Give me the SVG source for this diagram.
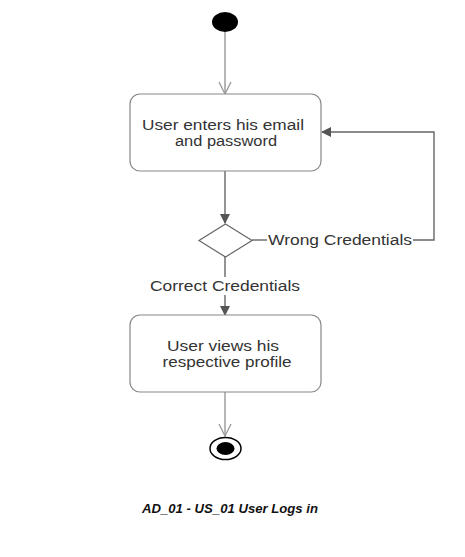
<svg xmlns="http://www.w3.org/2000/svg" width="465" height="557" viewBox="0 0 465 557">
<style>
.box{fill:#fff;stroke:#888;stroke-width:1.2}
.t{font-family:"Liberation Sans",Arial,sans-serif;font-size:14px;fill:#333;text-anchor:middle;dominant-baseline:central}
.ln{fill:none;stroke:#666;stroke-width:1.4}
.lt{fill:none;stroke:#999;stroke-width:1.4}
.cap{font-family:"Liberation Sans",Arial,sans-serif;font-size:12px;font-weight:bold;font-style:italic;fill:#111;text-anchor:middle;dominant-baseline:central}
</style>
<defs>
<marker id="fill" markerWidth="10" markerHeight="10" refX="9" refY="5" orient="auto" markerUnits="userSpaceOnUse">
<path d="M0,0 L10,5 L0,10 Z" fill="#555"/>
</marker>
<marker id="open" markerWidth="14" markerHeight="14" refX="13" refY="7" orient="auto" markerUnits="userSpaceOnUse">
<path d="M1,1 L13,7 L1,13" fill="none" stroke="#999" stroke-width="1.3"/>
</marker>
</defs>
<g id="connectors">
<line class="lt" x1="225" y1="32" x2="225" y2="94" marker-end="url(#open)"/>
<line class="ln" x1="225" y1="171" x2="225" y2="223" marker-end="url(#fill)"/>
<line class="ln" x1="252" y1="240" x2="267" y2="240"/>
<polyline class="ln" points="413,240 434,240 434,132 322,132" marker-end="url(#fill)"/>
<line class="ln" x1="225" y1="257" x2="225" y2="277"/>
<line class="ln" x1="225" y1="295" x2="225" y2="315" marker-end="url(#fill)"/>
<line class="lt" x1="225" y1="392" x2="225" y2="436" marker-end="url(#open)"/>
<text class="t" x="340" y="240" textLength="144" lengthAdjust="spacingAndGlyphs">Wrong Credentials</text>
<text class="t" x="225" y="286" textLength="150" lengthAdjust="spacingAndGlyphs">Correct Credentials</text>
</g>
<g id="start">
<ellipse cx="225" cy="22" rx="13" ry="10" fill="#000"/>
</g>
<g id="enter">
<rect class="box" x="130" y="94" width="191" height="77" rx="10"/>
<text class="t" x="223" y="125" textLength="162" lengthAdjust="spacingAndGlyphs">User enters his email</text>
<text class="t" x="226" y="141" textLength="102" lengthAdjust="spacingAndGlyphs">and password</text>
</g>
<g id="decision">
<polygon points="225.5,224 252,240.5 225.5,257 199,240.5" fill="#fff" stroke="#666" stroke-width="1.2"/>
</g>
<g id="profile">
<rect class="box" x="130" y="315" width="191" height="77" rx="10"/>
<text class="t" x="223" y="346" textLength="112" lengthAdjust="spacingAndGlyphs">User views his</text>
<text class="t" x="227" y="362" textLength="129" lengthAdjust="spacingAndGlyphs">respective profile</text>
</g>
<g id="end">
<ellipse cx="225.5" cy="448.5" rx="15.5" ry="11" fill="#fff" stroke="#000" stroke-width="1.5"/>
<ellipse cx="225.5" cy="448.5" rx="9" ry="6.5" fill="#000"/>
</g>
<text class="cap" x="230" y="509" textLength="176" lengthAdjust="spacingAndGlyphs">AD_01 - US_01 User Logs in</text>
</svg>
